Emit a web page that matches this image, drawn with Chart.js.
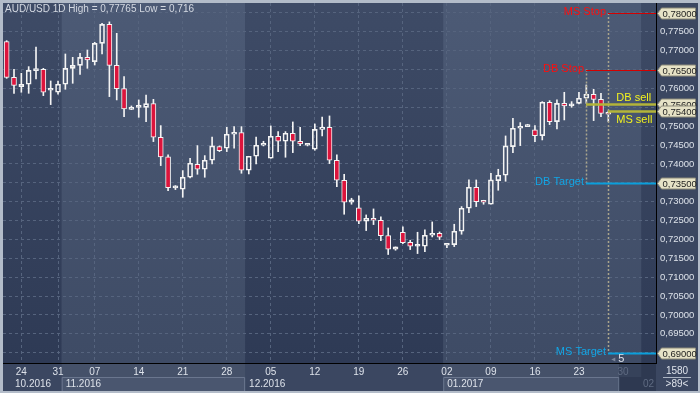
<!DOCTYPE html>
<html lang="en">
<head>
<meta charset="UTF-8">
<title>AUD/USD 1D</title>
<style>
  html, body { margin: 0; padding: 0; background: #b3bcc9; }
  #wrap { position: absolute; left: 3px; top: 3px; width: 695px; height: 388px; }
</style>
</head>
<body>
<div id="wrap"><canvas id="chart" width="695" height="388"></canvas></div>

<script src="https://cdn.jsdelivr.net/npm/chart.js"></script>
<script>
// daily candles, 24.10.2016 .. 27.01.2017
const open = [0.77241,0.76296,0.76049,0.76111,0.76473,0.76508,0.75952,0.75899,0.76111,0.76534,
  0.76614,0.76826,0.76711,0.77197,0.77700,0.76614,0.75996,0.75448,0.75501,0.75501,
  0.75598,0.74707,0.74186,0.73364,0.73329,0.73647,0.73991,0.73859,0.74097,0.74459,
  0.74415,0.74786,0.74830,0.73832,0.74203,0.74495,0.74150,0.74733,0.74601,0.74813,
  0.74601,0.74495,0.74389,0.74918,0.74971,0.74097,0.73567,0.72985,0.72835,0.72481,
  0.72561,0.72508,0.72102,0.71740,0.72190,0.71925,0.71819,0.71819,0.72111,0.72164,
  0.71846,0.71863,0.72216,0.72826,0.73382,0.73038,0.72932,0.73559,0.73700,0.74459,
  0.74945,0.74989,0.74901,0.74751,0.75634,0.75122,0.75607,0.75537,0.75607,0.75740,
  0.75846,0.75713,0.75369];
const high = [0.77267,0.76508,0.76402,0.76579,0.77099,0.76534,0.76199,0.76199,0.76914,0.76826,
  0.76932,0.77020,0.77223,0.77726,0.77765,0.77462,0.76314,0.75537,0.75696,0.75828,
  0.75713,0.75016,0.74239,0.73426,0.73824,0.74150,0.74486,0.74221,0.74715,0.74477,
  0.74971,0.74989,0.74989,0.74203,0.74715,0.74601,0.75007,0.74857,0.74857,0.75113,
  0.74971,0.74530,0.75060,0.75245,0.75272,0.74239,0.73726,0.73091,0.73152,0.72649,
  0.72808,0.72596,0.72305,0.71801,0.72331,0.71978,0.72190,0.72252,0.72464,0.72199,
  0.71872,0.72402,0.72870,0.73576,0.73576,0.73038,0.73753,0.73859,0.74742,0.75210,
  0.75095,0.75051,0.75016,0.75651,0.75678,0.75696,0.75899,0.75651,0.75899,0.76093,
  0.75978,0.75872,0.75404];
const low = [0.76269,0.75872,0.75899,0.75872,0.76252,0.75810,0.75572,0.75846,0.75978,0.76137,
  0.76375,0.76534,0.76623,0.76914,0.75784,0.75696,0.75254,0.75439,0.75236,0.75122,
  0.74592,0.73956,0.73294,0.73320,0.73117,0.73629,0.73726,0.73647,0.74000,0.74327,
  0.74327,0.74415,0.73753,0.73735,0.74000,0.74477,0.74150,0.74327,0.74177,0.74300,
  0.74486,0.74477,0.74362,0.74742,0.74009,0.73400,0.72667,0.72932,0.72420,0.72234,
  0.72393,0.71969,0.71600,0.71713,0.71890,0.71731,0.71625,0.71678,0.72066,0.71996,
  0.71784,0.71810,0.72137,0.72711,0.72870,0.72932,0.72932,0.73303,0.73541,0.74300,
  0.74486,0.74989,0.74592,0.74636,0.75042,0.74927,0.75166,0.75501,0.75590,0.75607,
  0.75148,0.75254,0.75122];
const close = [0.76296,0.76084,0.76111,0.76481,0.76508,0.75899,0.75978,0.76111,0.76534,0.76614,
  0.76826,0.76755,0.77197,0.77700,0.76614,0.75996,0.75457,0.75475,0.75519,0.75598,
  0.74707,0.74186,0.73373,0.73382,0.73647,0.74018,0.73859,0.74097,0.74477,0.74353,
  0.74786,0.74830,0.73832,0.74203,0.74495,0.74548,0.74733,0.74601,0.74813,0.74601,
  0.74530,0.74521,0.74918,0.74971,0.74097,0.73567,0.72985,0.73047,0.72481,0.72561,
  0.72508,0.72102,0.71740,0.71801,0.71916,0.71819,0.71828,0.72111,0.72164,0.72058,
  0.71872,0.72216,0.72826,0.73382,0.73002,0.72985,0.73576,0.73700,0.74477,0.74945,
  0.74989,0.75024,0.74751,0.75634,0.75122,0.75607,0.75537,0.75545,0.75740,0.75846,
  0.75713,0.75342,0.75316];

const slotCount = 89;  // visible bars (">89<"), incl. empty future slots
const weekTickIndex = [2, 7, 12, 18, 24, 30, 36, 42, 48, 54, 60, 66, 72, 78, 84];
const weekTickText = ['24', '31', '07', '14', '21', '28', '05', '12', '19', '26', '02', '09', '16', '23', '30'];
const monthStart = [0, 8, 33, 60];
const monthText = ['10.2016', '11.2016', '12.2016', '01.2017'];
const priceTicks = [0.690, 0.695, 0.700, 0.705, 0.710, 0.715, 0.720, 0.725, 0.730, 0.735,
  0.740, 0.745, 0.750, 0.755, 0.760, 0.765, 0.770, 0.775, 0.780];

// trade levels
const levelNames = ['MS Stop', 'DB Stop', 'DB sell', 'MS sell', 'DB Target', 'MS Target'];
const levelPrices = [0.780, 0.765, 0.756, 0.754, 0.735, 0.690];
const levelFrom = [82, 79, 79, 82, 79, 82];

const labels = Array(slotCount).fill('');
weekTickIndex.forEach((k, i) => { labels[k] = weekTickText[i]; });

const RED = '#dc143c';
const TXT = '#dde2ea';
const DIM = '#5f6b82';
const GRID = '#56647e';
const fmt = v => v.toFixed(5).replace('.', ',');

Chart.defaults.font.family = "'Liberation Sans', Arial, sans-serif";

const wickUp = open.map((o, i) => [Math.max(o, close[i]), high[i]]);
const wickDown = open.map((o, i) => [low[i], Math.min(o, close[i])]);
const bodies = open.map((o, i) => [o, close[i]]);

function fillGrad(ctx, a, x0, x1, top, bottom) {
    const g = ctx.createLinearGradient(0, a.top, 0, a.bottom);
    g.addColorStop(0, top);
    g.addColorStop(1, bottom);
    ctx.fillStyle = g;
    ctx.fillRect(x0, a.top, x1 - x0, a.bottom - a.top);
}

const backdrop = {
    id: 'backdrop',
    beforeDraw(chart) {
        const {ctx, chartArea: a, scales: {x}} = chart;
        const slot = x.getPixelForValue(1) - x.getPixelForValue(0);
        const edge = i => a.left + i * slot;
        ctx.save();
        ctx.fillStyle = '#3b4761';
        ctx.fillRect(0, 0, chart.width, chart.height);

        // month bands in the plot
        const starts = monthStart.concat([87]);
        starts.forEach((s, i) => {
            const x0 = edge(s);
            const x1 = i === starts.length - 1 ? a.right : edge(starts[i + 1]);
            if (i % 2 === 1) fillGrad(ctx, a, x0, x1, '#4c5a75', '#3e4b65');
            else fillGrad(ctx, a, x0, x1, '#3e4b66', '#2e3a55');
        });

        // bottom axis cells
        const yb = a.bottom + 1, rowY = a.bottom + 14;
        monthStart.forEach((s, i) => {
            const x0 = edge(s);
            const x1 = i === monthStart.length - 1 ? edge(84) : edge(monthStart[i + 1]);
            if (i % 2 === 1) {
                ctx.fillStyle = '#455169';
                ctx.fillRect(x0, yb, x1 - x0, chart.height - yb);
                ctx.fillStyle = '#4a566f';
                ctx.fillRect(x0, rowY, x1 - x0, chart.height - rowY);
                ctx.strokeStyle = '#6a768e';
                ctx.lineWidth = 1;
                ctx.beginPath();
                ctx.moveTo(x0 + 0.5, chart.height);
                ctx.lineTo(x0 + 0.5, rowY + 0.5);
                ctx.lineTo(x1 - 0.5, rowY + 0.5);
                ctx.lineTo(x1 - 0.5, chart.height);
                ctx.stroke();
            }
            ctx.fillStyle = TXT;
            ctx.font = '10px ' + Chart.defaults.font.family;
            ctx.textAlign = 'left';
            ctx.textBaseline = 'middle';
            ctx.fillText(monthText[i], x0 + (i === 0 ? 12 : 4), rowY + 7);
        });
        // future part of the time axis
        ctx.fillStyle = '#2e3951';
        ctx.fillRect(edge(84), yb, a.right - edge(84), chart.height - yb);
        ctx.fillStyle = '#36425a';
        ctx.fillRect(edge(84), yb, edge(87) - edge(84), 13);
        ctx.fillStyle = DIM;
        ctx.textAlign = 'right';
        ctx.fillText('02', a.right - 2, rowY + 7);

        // corner cell
        ctx.fillStyle = TXT;
        ctx.textAlign = 'center';
        const cx = (a.right + chart.width) / 2;
        ctx.fillText('1580', cx, a.bottom + 8);
        ctx.fillText('>89<', cx, a.bottom + 21);
        ctx.strokeStyle = '#aab3c2';
        ctx.beginPath();
        ctx.moveTo(cx - 14, a.bottom + 14.5);
        ctx.lineTo(cx + 14, a.bottom + 14.5);
        ctx.stroke();
        ctx.restore();
    }
};

const levels = {
    id: 'levels',
    afterDatasetsDraw(chart) {
        const {ctx, chartArea: a, scales: {x, y}} = chart;
        const font = '11px ' + Chart.defaults.font.family;
        ctx.save();
        ctx.font = font;
        ctx.textBaseline = 'middle';

        // dotted verticals joining stop and target
        ctx.strokeStyle = '#aaa58c';
        ctx.lineWidth = 1.5;
        ctx.setLineDash([2, 2]);
        [[1, 4], [0, 5]].forEach(([t, b]) => {
            const px = Math.round(x.getPixelForValue(levelFrom[t])) + 0.5;
            ctx.beginPath();
            ctx.moveTo(px, y.getPixelForValue(levelPrices[t]));
            ctx.lineTo(px, y.getPixelForValue(levelPrices[b]));
            ctx.stroke();
        });
        ctx.setLineDash([]);

        const lineCol = ['#d40000', '#d40000', '#b3b43a', '#b3b43a', '#0a9fdc', '#0a9fdc'];
        const textCol = ['#ff0d0d', '#ff0d0d', '#f2f21e', '#f2f21e', '#12a6e6', '#12a6e6'];
        const lineW = [1, 1, 2.5, 2.5, 2, 2];
        levelNames.forEach((name, i) => {
            const x0 = Math.round(x.getPixelForValue(levelFrom[i]));
            const py = Math.round(y.getPixelForValue(levelPrices[i])) + 0.5;
            ctx.strokeStyle = lineCol[i];
            ctx.lineWidth = lineW[i];
            ctx.beginPath();
            ctx.moveTo(x0, py);
            ctx.lineTo(a.right, py);
            ctx.stroke();
            ctx.fillStyle = textCol[i];
            if (name.endsWith('sell')) {
                ctx.textAlign = 'left';
                ctx.fillText(name, x.getPixelForValue(82) + 8, py + (i === 2 ? -7 : 8));
            } else {
                ctx.textAlign = 'right';
                ctx.fillText(name, x0 - 2, py - 2);
            }
        });

        // bars-to-target counter
        const ty = y.getPixelForValue(levelPrices[5]) + 6;
        const tx = x.getPixelForValue(82);
        ctx.fillStyle = '#7d879a';
        ctx.beginPath();
        ctx.moveTo(tx + 3, ty + 1);
        ctx.lineTo(tx + 7, ty - 1);
        ctx.lineTo(tx + 7, ty + 3);
        ctx.fill();
        ctx.fillStyle = TXT;
        ctx.textAlign = 'left';
        ctx.fillText('5', tx + 10, ty);

        // title
        ctx.font = '10px ' + Chart.defaults.font.family;
        ctx.fillStyle = '#d4d9e2';
        ctx.fillText('AUD/USD 1D High = 0,77765 Low = 0,716', 2, 6);
        ctx.restore();
    },
    afterDraw(chart) {
        const {ctx, chartArea: a, scales: {y}} = chart;
        ctx.save();
        ctx.font = '9.5px ' + Chart.defaults.font.family;
        ctx.textBaseline = 'middle';
        ctx.textAlign = 'left';
        levelPrices.forEach(p => {
            const cy = Math.round(y.getPixelForValue(p)) + 0.5;
            const l = a.right + 1.5, r = chart.width - 2.5;
            ctx.beginPath();
            ctx.moveTo(l, cy);
            ctx.lineTo(l + 4, cy - 5.5);
            ctx.lineTo(r, cy - 5.5);
            ctx.lineTo(r, cy + 5.5);
            ctx.lineTo(l + 4, cy + 5.5);
            ctx.closePath();
            ctx.fillStyle = '#e6e2c6';
            ctx.fill();
            ctx.strokeStyle = '#8d8b7a';
            ctx.lineWidth = 1;
            ctx.stroke();
            ctx.fillStyle = '#1e1e1e';
            ctx.fillText(fmt(p), l + 5, cy + 0.5);
        });
        ctx.restore();
    }
};

new Chart(document.getElementById('chart'), {
    type: 'bar',
    data: {
        labels: labels,
        datasets: [{
            data: wickUp,
            backgroundColor: '#f4f4f4',
            barThickness: 1,
            grouped: false
        }, {
            data: wickDown,
            backgroundColor: '#f4f4f4',
            barThickness: 1,
            grouped: false
        }, {
            data: bodies,
            backgroundColor: c => close[c.dataIndex] < open[c.dataIndex] ? RED : 'rgba(0,0,0,0)',
            borderColor: '#f4f4f4',
            borderWidth: 1,
            borderSkipped: false,
            minBarLength: 2,
            barThickness: 5,
            grouped: false
        }]
    },
    options: {
        responsive: false,
        animation: false,
        layout: { padding: 0, autoPadding: false },
        plugins: { legend: { display: false }, tooltip: { enabled: false } },
        scales: {
            x: {
                ticks: {
                    autoSkip: false,
                    maxRotation: 0,
                    minRotation: 0,
                    padding: 3,
                    font: { size: 10 },
                    color: c => c.index === 84 ? DIM : TXT
                },
                grid: {
                    offset: false,
                    drawTicks: false,
                    color: c => (labels[c.index] && c.index < 84) ? GRID : 'rgba(0,0,0,0)'
                },
                border: { color: '#000', width: 1, dash: [3, 3] },
                afterFit: s => { s.height = 28; s.paddingLeft = 0; s.paddingRight = 0; }
            },
            y: {
                position: 'right',
                min: 0.68725,
                max: 0.78265,
                afterBuildTicks: s => { s.ticks = priceTicks.map(v => ({ value: v })); },
                ticks: {
                    padding: 4,
                    font: { size: 9.5 },
                    color: TXT,
                    callback: v => fmt(v)
                },
                grid: { drawTicks: false, color: GRID },
                border: { color: '#000', width: 1, dash: [3, 3] },
                afterFit: s => { s.width = 42; s.paddingTop = 0; s.paddingBottom = 0; }
            }
        }
    },
    plugins: [backdrop, levels]
});
</script>
</body>
</html>
